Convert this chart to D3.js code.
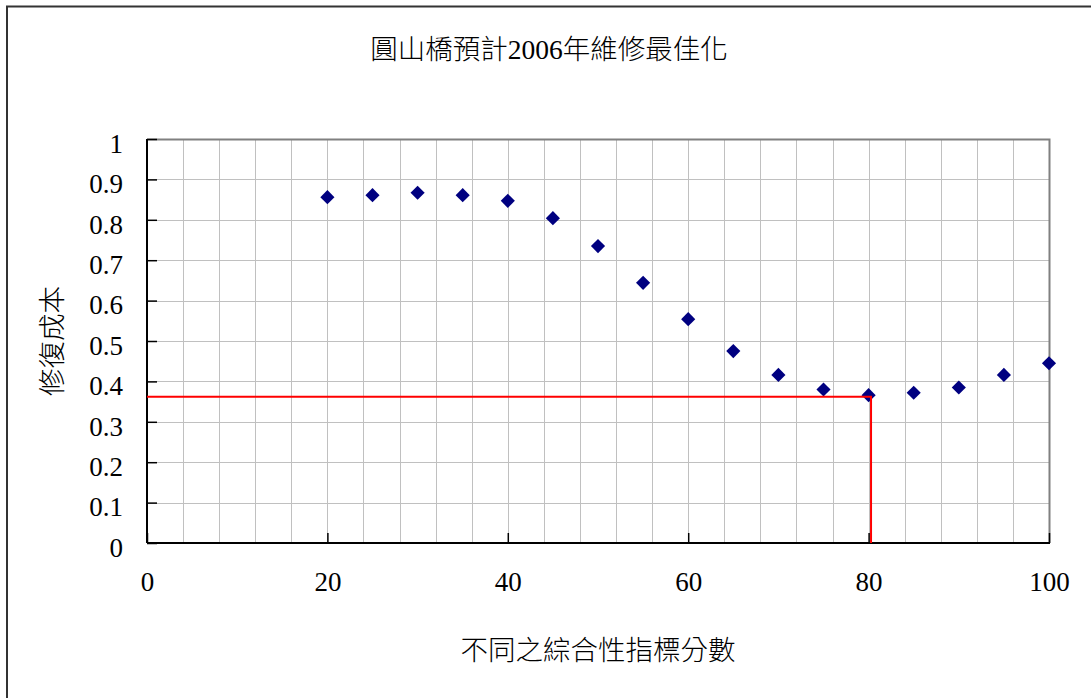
<!DOCTYPE html>
<html>
<head>
<meta charset="utf-8">
<script src="https://cdn.jsdelivr.net/npm/d3@7"></script>
<style>
  html, body { margin: 0; padding: 0; background: #fff; }
  svg { display: block; }
  text { font-family: "Liberation Serif", "Noto Sans CJK TC", serif; fill: #000; }
  .cjk { font-weight: 300; }
</style>
</head>
<body>
<svg id="chart" width="1091" height="698"></svg>
<script>
// Repair cost at each composite index score
const scores = [20, 25, 30, 35, 40, 45, 50, 55, 60, 65, 70, 75, 80, 85, 90, 95, 100];
const costs  = [0.856, 0.861, 0.867, 0.861, 0.847, 0.804, 0.735, 0.644, 0.554, 0.475, 0.416, 0.380, 0.366, 0.372, 0.385, 0.416, 0.445];

// Chosen optimum (red guide lines)
const optimumScore = 80.27;
const optimumCost = 0.362;

const xTicks = [0, 20, 40, 60, 80, 100];
const xGrid = d3.range(0, 101, 4);
const yTicks = [0, 0.1, 0.2, 0.3, 0.4, 0.5, 0.6, 0.7, 0.8, 0.9, 1];

const titleText = "圓山橋預計2006年維修最佳化";
const xTitle = "不同之綜合性指標分數";
const yTitle = "修復成本";

const svg = d3.select("#chart");
const W = 1091, H = 698;
const plot = { left: 147, right: 1049, top: 139, bottom: 543 };

const x = d3.scaleLinear().domain([0, 100]).range([plot.left, plot.right]);
const y = d3.scaleLinear().domain([0, 1]).range([plot.bottom, plot.top]);

// Outer chart frame
svg.append("rect")
  .attr("x", 7).attr("y", 6.5)
  .attr("width", W + 10).attr("height", H + 10)
  .attr("fill", "#fff").attr("stroke", "#333").attr("stroke-width", 2);

// Title
svg.append("text")
  .attr("class", "cjk")
  .attr("x", 549).attr("y", 59)
  .attr("text-anchor", "middle")
  .style("font-size", "27.5px")
  .text(titleText);

// Gridlines
const grid = svg.append("g").attr("stroke", "#c0c0c0").attr("stroke-width", 1);
grid.selectAll("line.v").data(xGrid.filter(d => d > 0 && d < 100)).join("line")
  .attr("class", "v")
  .attr("x1", d => Math.round(x(d)) + 0.5).attr("x2", d => Math.round(x(d)) + 0.5)
  .attr("y1", plot.top).attr("y2", plot.bottom);
grid.selectAll("line.h").data(yTicks.filter(d => d > 0 && d < 1)).join("line")
  .attr("class", "h")
  .attr("x1", plot.left).attr("x2", plot.right)
  .attr("y1", d => Math.round(y(d)) + 0.5).attr("y2", d => Math.round(y(d)) + 0.5);

// Top and right plot border
svg.append("path")
  .attr("d", `M${plot.left},${plot.top + 0.5}H${plot.right + 0.5}V${plot.bottom}`)
  .attr("fill", "none").attr("stroke", "#808080").attr("stroke-width", 2);

// Y axis with inward ticks
const yAxis = d3.axisLeft(y).tickValues(yTicks).tickSize(-10).tickPadding(24)
  .tickFormat(d => d3.format("")(+d.toFixed(1)));
const gy = svg.append("g").attr("transform", `translate(${plot.left},0)`).call(yAxis);
gy.select(".domain").attr("stroke", "#000").attr("stroke-width", 2).attr("d", `M0,${plot.top}V${plot.bottom}`);
gy.selectAll(".tick line").attr("stroke", "#000").attr("stroke-width", 1.5);
gy.selectAll(".tick text")
  .attr("dy", "0.38em")
  .attr("transform", "translate(0,3)")
  .style("font-family", "'Liberation Serif', serif")
  .style("font-size", "27px").attr("fill", "#000");

// X axis with inward ticks
const xAxis = d3.axisBottom(x).tickValues(xTicks).tickSize(-10).tickPadding(38);
const gx = svg.append("g").attr("transform", `translate(0,${plot.bottom})`).call(xAxis);
gx.select(".domain").attr("stroke", "#000").attr("stroke-width", 2).attr("d", `M${plot.left},0H${plot.right + 1}`);
gx.selectAll(".tick line").attr("stroke", "#000").attr("stroke-width", 1.5);
gx.selectAll(".tick text")
  .attr("dy", "0.38em")
  .style("font-family", "'Liberation Serif', serif")
  .style("font-size", "27px").attr("fill", "#000");

// Axis titles
svg.append("text")
  .attr("class", "cjk")
  .attr("x", (plot.left + plot.right) / 2).attr("y", 660)
  .attr("text-anchor", "middle")
  .style("font-size", "27.5px")
  .text(xTitle);

svg.append("text")
  .attr("class", "cjk")
  .attr("transform", `translate(62,${(plot.top + plot.bottom) / 2}) rotate(-90)`)
  .attr("text-anchor", "middle")
  .style("font-size", "27.5px")
  .text(yTitle);

// Data points (diamonds)
const diamond = d3.symbol().type(d3.symbolSquare).size(100);
svg.append("g").selectAll("path").data(scores).join("path")
  .attr("d", diamond)
  .attr("transform", (d, i) => `translate(${x(d)},${y(costs[i])}) rotate(45)`)
  .attr("fill", "#000080");

// Optimum guide lines
svg.append("path")
  .attr("d", `M${x(0)},${y(optimumCost)}H${x(optimumScore)}V${y(0)}`)
  .attr("fill", "none").attr("stroke", "#ff0000").attr("stroke-width", 2);
</script>
</body>
</html>
